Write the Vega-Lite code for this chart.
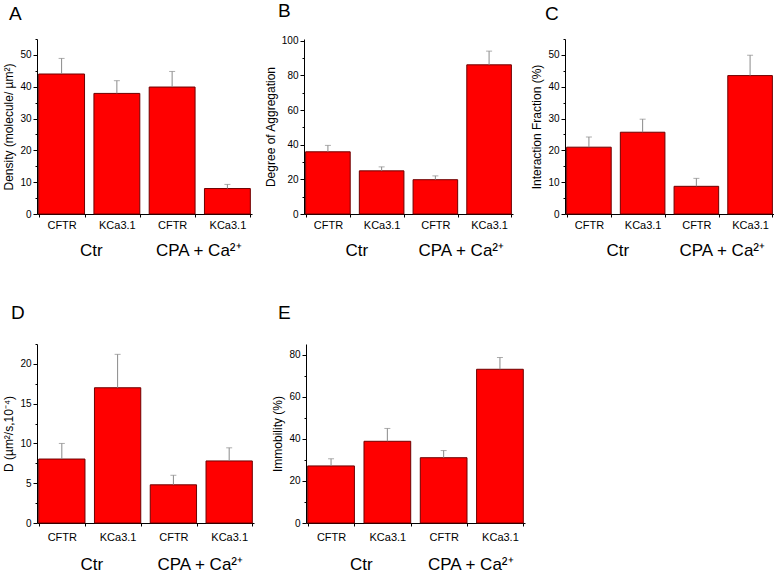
{
  "$schema": "https://vega.github.io/schema/vega-lite/v6.json",
  "padding": {"left": 2, "top": 1, "right": 0, "bottom": 0},
  "datasets": {
    "d": [
      {"panel": "A", "cond": "Ctr", "gene": "CFTR", "key": "Ctr|CFTR", "mean": 44, "upper": 48.9},
      {"panel": "A", "cond": "Ctr", "gene": "KCa3.1", "key": "Ctr|KCa3.1", "mean": 37.9, "upper": 41.9},
      {"panel": "A", "cond": "CPA + Ca²⁺", "gene": "CFTR", "key": "CPA|CFTR", "mean": 39.9, "upper": 44.8},
      {"panel": "A", "cond": "CPA + Ca²⁺", "gene": "KCa3.1", "key": "CPA|KCa3.1", "mean": 8, "upper": 9.3},
      {"panel": "B", "cond": "Ctr", "gene": "CFTR", "key": "Ctr|CFTR", "mean": 35.9, "upper": 39.6},
      {"panel": "B", "cond": "Ctr", "gene": "KCa3.1", "key": "Ctr|KCa3.1", "mean": 24.9, "upper": 27.2},
      {"panel": "B", "cond": "CPA + Ca²⁺", "gene": "CFTR", "key": "CPA|CFTR", "mean": 19.8, "upper": 22},
      {"panel": "B", "cond": "CPA + Ca²⁺", "gene": "KCa3.1", "key": "CPA|KCa3.1", "mean": 86.1, "upper": 94},
      {"panel": "C", "cond": "Ctr", "gene": "CFTR", "key": "Ctr|CFTR", "mean": 21, "upper": 24.2},
      {"panel": "C", "cond": "Ctr", "gene": "KCa3.1", "key": "Ctr|KCa3.1", "mean": 25.7, "upper": 29.8},
      {"panel": "C", "cond": "CPA + Ca²⁺", "gene": "CFTR", "key": "CPA|CFTR", "mean": 8.7, "upper": 11.2},
      {"panel": "C", "cond": "CPA + Ca²⁺", "gene": "KCa3.1", "key": "CPA|KCa3.1", "mean": 43.5, "upper": 49.9},
      {"panel": "D", "cond": "Ctr", "gene": "CFTR", "key": "Ctr|CFTR", "mean": 8.04, "upper": 10},
      {"panel": "D", "cond": "Ctr", "gene": "KCa3.1", "key": "Ctr|KCa3.1", "mean": 17, "upper": 21.2},
      {"panel": "D", "cond": "CPA + Ca²⁺", "gene": "CFTR", "key": "CPA|CFTR", "mean": 4.8, "upper": 6},
      {"panel": "D", "cond": "CPA + Ca²⁺", "gene": "KCa3.1", "key": "CPA|KCa3.1", "mean": 7.8, "upper": 9.45},
      {"panel": "E", "cond": "Ctr", "gene": "CFTR", "key": "Ctr|CFTR", "mean": 27.1, "upper": 30.5},
      {"panel": "E", "cond": "Ctr", "gene": "KCa3.1", "key": "Ctr|KCa3.1", "mean": 38.8, "upper": 44.9},
      {"panel": "E", "cond": "CPA + Ca²⁺", "gene": "CFTR", "key": "CPA|CFTR", "mean": 31, "upper": 34.4},
      {"panel": "E", "cond": "CPA + Ca²⁺", "gene": "KCa3.1", "key": "CPA|KCa3.1", "mean": 73, "upper": 78.6}
    ]
  },
  "data": {"name": "d"},
  "bounds": "flush",
  "spacing": 305,
  "vconcat": [
    {
      "bounds": "flush",
      "spacing": 52,
      "hconcat": [
        {
          "width": 215, "height": 175,
          "title": {"text": "A", "dx": -28},
          "transform": [{"filter": "datum.panel === 'A'"}],
          "layer": [
            {
              "layer": [
                {"mark": {"type": "bar", "fill": "#ff0000", "stroke": "#6e0000", "strokeWidth": 1},
                 "encoding": {
                   "x": {"field": "key", "type": "nominal", "sort": null, "scale": {"paddingInner": 0.17, "paddingOuter": 0.03}, "axis": {"labelExpr": "split(datum.label,'|')[1]", "title": null}},
                   "y": {"field": "mean", "type": "quantitative", "scale": {"domain": [0, 55], "nice": false, "zero": true}, "axis": {"title": "Density (molecule/ µm²)", "values": [0, 10, 20, 30, 40, 50]}}
                 }},
                {"mark": {"type": "rule", "color": "#8a8a8a", "strokeWidth": 1},
                 "encoding": {
                   "x": {"field": "key", "type": "nominal", "sort": null},
                   "y": {"field": "mean", "type": "quantitative", "axis": null},
                   "y2": {"field": "upper"}
                 }},
                {"mark": {"type": "tick", "color": "#8a8a8a", "size": 6, "thickness": 1},
                 "encoding": {
                   "x": {"field": "key", "type": "nominal", "sort": null},
                   "y": {"field": "upper", "type": "quantitative", "axis": {"orient": "left", "title": null, "labels": false, "domain": false, "tickSize": 2, "values": [5, 15, 25, 35, 45, 55]}}
                 }}
              ],
              "resolve": {"axis": {"y": "independent"}}
            },
            {"mark": {"type": "text", "opacity": 0},
             "encoding": {
               "x": {"field": "cond", "type": "nominal", "sort": null, "scale": {"paddingInner": 0, "paddingOuter": 0}, "axis": {"orient": "bottom", "offset": 28, "title": null, "domain": false, "ticks": false, "tickSize": 0, "labelPadding": 0, "labelFontSize": 17}},
               "text": {"field": "cond"}
             }}
          ],
          "resolve": {"scale": {"x": "independent"}}
        },
        {
          "width": 209, "height": 175,
          "title": {"text": "B", "dx": -26},
          "transform": [{"filter": "datum.panel === 'B'"}],
          "layer": [
            {
              "layer": [
                {"mark": {"type": "bar", "fill": "#ff0000", "stroke": "#6e0000", "strokeWidth": 1},
                 "encoding": {
                   "x": {"field": "key", "type": "nominal", "sort": null, "scale": {"paddingInner": 0.17, "paddingOuter": 0.03}, "axis": {"labelExpr": "split(datum.label,'|')[1]", "title": null}},
                   "y": {"field": "mean", "type": "quantitative", "scale": {"domain": [0, 101], "nice": false, "zero": true}, "axis": {"title": "Degree of Aggregation", "values": [0, 20, 40, 60, 80, 100]}}
                 }},
                {"mark": {"type": "rule", "color": "#8a8a8a", "strokeWidth": 1},
                 "encoding": {
                   "x": {"field": "key", "type": "nominal", "sort": null},
                   "y": {"field": "mean", "type": "quantitative", "axis": null},
                   "y2": {"field": "upper"}
                 }},
                {"mark": {"type": "tick", "color": "#8a8a8a", "size": 6, "thickness": 1},
                 "encoding": {
                   "x": {"field": "key", "type": "nominal", "sort": null},
                   "y": {"field": "upper", "type": "quantitative", "axis": {"orient": "left", "title": null, "labels": false, "domain": false, "tickSize": 2, "values": [10, 30, 50, 70, 90]}}
                 }}
              ],
              "resolve": {"axis": {"y": "independent"}}
            },
            {"mark": {"type": "text", "opacity": 0},
             "encoding": {
               "x": {"field": "cond", "type": "nominal", "sort": null, "scale": {"paddingInner": 0, "paddingOuter": 0}, "axis": {"orient": "bottom", "offset": 28, "title": null, "domain": false, "ticks": false, "tickSize": 0, "labelPadding": 0, "labelFontSize": 17}},
               "text": {"field": "cond"}
             }}
          ],
          "resolve": {"scale": {"x": "independent"}}
        },
        {
          "width": 209, "height": 175,
          "title": {"text": "C", "dx": -20},
          "transform": [{"filter": "datum.panel === 'C'"}],
          "layer": [
            {
              "layer": [
                {"mark": {"type": "bar", "fill": "#ff0000", "stroke": "#6e0000", "strokeWidth": 1},
                 "encoding": {
                   "x": {"field": "key", "type": "nominal", "sort": null, "scale": {"paddingInner": 0.17, "paddingOuter": 0.03}, "axis": {"labelExpr": "split(datum.label,'|')[1]", "title": null}},
                   "y": {"field": "mean", "type": "quantitative", "scale": {"domain": [0, 55], "nice": false, "zero": true}, "axis": {"title": "Interaction Fraction (%)", "values": [0, 10, 20, 30, 40, 50]}}
                 }},
                {"mark": {"type": "rule", "color": "#8a8a8a", "strokeWidth": 1},
                 "encoding": {
                   "x": {"field": "key", "type": "nominal", "sort": null},
                   "y": {"field": "mean", "type": "quantitative", "axis": null},
                   "y2": {"field": "upper"}
                 }},
                {"mark": {"type": "tick", "color": "#8a8a8a", "size": 6, "thickness": 1},
                 "encoding": {
                   "x": {"field": "key", "type": "nominal", "sort": null},
                   "y": {"field": "upper", "type": "quantitative", "axis": {"orient": "left", "title": null, "labels": false, "domain": false, "tickSize": 2, "values": [5, 15, 25, 35, 45, 55]}}
                 }}
              ],
              "resolve": {"axis": {"y": "independent"}}
            },
            {"mark": {"type": "text", "opacity": 0},
             "encoding": {
               "x": {"field": "cond", "type": "nominal", "sort": null, "scale": {"paddingInner": 0, "paddingOuter": 0}, "axis": {"orient": "bottom", "offset": 28, "title": null, "domain": false, "ticks": false, "tickSize": 0, "labelPadding": 0, "labelFontSize": 17}},
               "text": {"field": "cond"}
             }}
          ],
          "resolve": {"scale": {"x": "independent"}}
        }
      ]
    },
    {
      "bounds": "flush",
      "spacing": 52,
      "hconcat": [
        {
          "width": 217, "height": 179,
          "title": {"text": "D", "dx": -26, "offset": 21},
          "transform": [{"filter": "datum.panel === 'D'"}],
          "layer": [
            {
              "layer": [
                {"mark": {"type": "bar", "fill": "#ff0000", "stroke": "#6e0000", "strokeWidth": 1},
                 "encoding": {
                   "x": {"field": "key", "type": "nominal", "sort": null, "scale": {"paddingInner": 0.17, "paddingOuter": 0.03}, "axis": {"labelExpr": "split(datum.label,'|')[1]", "title": null, "labelPadding": 5}},
                   "y": {"field": "mean", "type": "quantitative", "scale": {"domain": [0, 22.5], "nice": false, "zero": true}, "axis": {"title": "D (µm²/s,10⁻⁴)", "values": [0, 5, 10, 15, 20]}}
                 }},
                {"mark": {"type": "rule", "color": "#8a8a8a", "strokeWidth": 1},
                 "encoding": {
                   "x": {"field": "key", "type": "nominal", "sort": null},
                   "y": {"field": "mean", "type": "quantitative", "axis": null},
                   "y2": {"field": "upper"}
                 }},
                {"mark": {"type": "tick", "color": "#8a8a8a", "size": 6, "thickness": 1},
                 "encoding": {
                   "x": {"field": "key", "type": "nominal", "sort": null},
                   "y": {"field": "upper", "type": "quantitative", "axis": {"orient": "left", "title": null, "labels": false, "domain": false, "tickSize": 2, "values": [2.5, 7.5, 12.5, 17.5, 22.5]}}
                 }}
              ],
              "resolve": {"axis": {"y": "independent"}}
            },
            {"mark": {"type": "text", "opacity": 0},
             "encoding": {
               "x": {"field": "cond", "type": "nominal", "sort": null, "scale": {"paddingInner": 0, "paddingOuter": 0}, "axis": {"orient": "bottom", "offset": 33, "title": null, "domain": false, "ticks": false, "tickSize": 0, "labelPadding": 0, "labelFontSize": 17}},
               "text": {"field": "cond"}
             }}
          ],
          "resolve": {"scale": {"x": "independent"}}
        },
        {
          "width": 219, "height": 179,
          "title": {"text": "E", "dx": -28, "offset": 21},
          "transform": [{"filter": "datum.panel === 'E'"}],
          "layer": [
            {
              "layer": [
                {"mark": {"type": "bar", "fill": "#ff0000", "stroke": "#6e0000", "strokeWidth": 1},
                 "encoding": {
                   "x": {"field": "key", "type": "nominal", "sort": null, "scale": {"paddingInner": 0.17, "paddingOuter": 0.03}, "axis": {"labelExpr": "split(datum.label,'|')[1]", "title": null, "labelPadding": 5}},
                   "y": {"field": "mean", "type": "quantitative", "scale": {"domain": [0, 85], "nice": false, "zero": true}, "axis": {"title": "Immobility (%)", "values": [0, 20, 40, 60, 80]}}
                 }},
                {"mark": {"type": "rule", "color": "#8a8a8a", "strokeWidth": 1},
                 "encoding": {
                   "x": {"field": "key", "type": "nominal", "sort": null},
                   "y": {"field": "mean", "type": "quantitative", "axis": null},
                   "y2": {"field": "upper"}
                 }},
                {"mark": {"type": "tick", "color": "#8a8a8a", "size": 6, "thickness": 1},
                 "encoding": {
                   "x": {"field": "key", "type": "nominal", "sort": null},
                   "y": {"field": "upper", "type": "quantitative", "axis": {"orient": "left", "title": null, "labels": false, "domain": false, "tickSize": 2, "values": [10, 30, 50, 70]}}
                 }}
              ],
              "resolve": {"axis": {"y": "independent"}}
            },
            {"mark": {"type": "text", "opacity": 0},
             "encoding": {
               "x": {"field": "cond", "type": "nominal", "sort": null, "scale": {"paddingInner": 0, "paddingOuter": 0}, "axis": {"orient": "bottom", "offset": 33, "title": null, "domain": false, "ticks": false, "tickSize": 0, "labelPadding": 0, "labelFontSize": 17}},
               "text": {"field": "cond"}
             }}
          ],
          "resolve": {"scale": {"x": "independent"}}
        }
      ]
    }
  ],
  "config": {
    "font": "Liberation Sans",
    "view": {"stroke": null},
    "title": {"anchor": "start", "frame": "group", "fontSize": 19, "fontWeight": "normal", "color": "#000", "offset": 15, "font": "Liberation Sans"},
    "axis": {"grid": false, "domainColor": "#000", "tickColor": "#000", "labelColor": "#000", "titleColor": "#000", "titleFontWeight": "normal", "labelFont": "Liberation Sans", "titleFont": "Liberation Sans"},
    "axisY": {"tickSize": 4, "labelFontSize": 10, "labelPadding": 2, "titleFontSize": 12, "titlePadding": 4},
    "axisX": {"tickSize": 3, "labelFontSize": 11, "labelPadding": 2, "labelAngle": 0, "tickBand": "extent"}
  }
}
